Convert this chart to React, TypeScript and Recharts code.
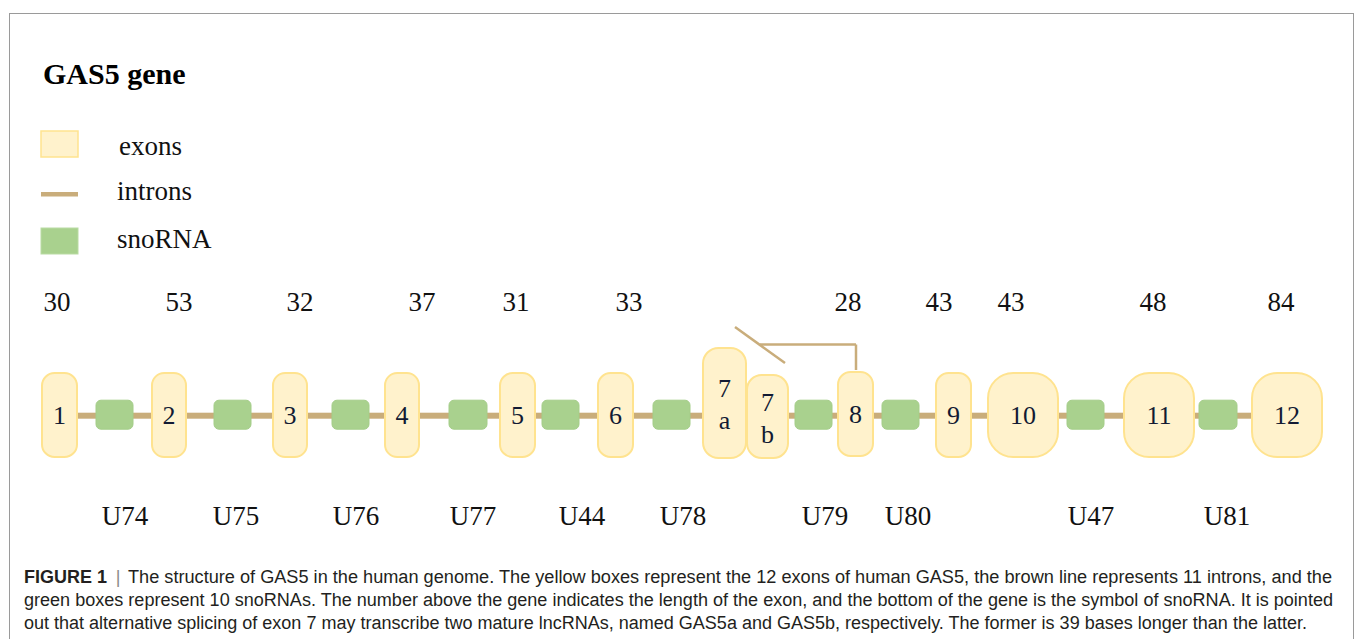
import React from "react";
import {
  ComposedChart,
  XAxis,
  YAxis,
  ReferenceArea,
  ReferenceDot,
  ReferenceLine,
} from "recharts";

// ---------- data (gene-diagram coordinates) ----------
const exonNames = ["1", "2", "3", "4", "5", "6", "7a", "7b", "8", "9", "10", "11", "12"];
const exonStart = [42, 152, 273, 385, 500, 598, 703, 747, 838, 936, 988, 1124, 1252];
const exonEnd = [77, 186, 307, 419, 535, 633, 746, 788, 873, 971, 1058, 1194, 1322];
const exonTop = [373, 373, 373, 373, 373, 373, 348, 375, 372, 373, 373, 373, 373];
const exonBottom = [457, 457, 457, 457, 457, 457, 458, 458, 456, 457, 457, 457, 457];

const exonLengths = [30, 53, 32, 37, 31, 33, 28, 43, 43, 48, 84];
const exonLengthPos = [57, 179, 300, 422, 516, 629, 848, 939, 1011, 1153, 1281];

const snoNames = ["U74", "U75", "U76", "U77", "U44", "U78", "U79", "U80", "U47", "U81"];
const snoStart = [96, 214, 332, 449, 542, 653, 795, 882, 1067, 1199];
const snoEnd = [133, 251, 369, 487, 579, 690, 832, 919, 1104, 1237];
const snoLabelPos = [125, 236, 356, 473, 582, 683, 825, 908, 1091, 1227];

const intronSpan = [60, 1290];
const geneAxis = 415.7;

// splicing bracket for exon 7
const bracketDiag = [
  { x: 735, y: 327 },
  { x: 785, y: 363 },
];
const bracketPath = [
  { x: 760, y: 344.5 },
  { x: 856, y: 344.5 },
  { x: 856, y: 370 },
];

const legendLabels = ["exons", "introns", "snoRNA"];
const titleText = "GAS5 gene";

const captionLabel = "FIGURE 1";
const captionLines = [
  "The structure of GAS5 in the human genome. The yellow boxes represent the 12 exons of human GAS5, the brown line represents 11 introns, and the",
  "green boxes represent 10 snoRNAs. The number above the gene indicates the length of the exon, and the bottom of the gene is the symbol of snoRNA. It is pointed",
  "out that alternative splicing of exon 7 may transcribe two mature lncRNAs, named GAS5a and GAS5b, respectively. The former is 39 bases longer than the latter.",
];

// ---------- styles ----------
const W = 1355;
const H = 639;
const SERIF = '"Liberation Serif", "Times New Roman", serif';
const SANS = '"Liberation Sans", Arial, sans-serif';
const EXON_FILL = "#fff2cc";
const EXON_STROKE = "#ffe38f";
const SNO_FILL = "#a9d18e";
const INTRON = "#c9ad7b";

const textDot = (key: string, x: number, y: number, render: (cx: number, cy: number) => any) => (
  <ReferenceDot
    key={key}
    x={x}
    y={y}
    r={0}
    ifOverflow="visible"
    isFront
    shape={(p: any) => render(p.cx, p.cy)}
  />
);

const captionStart = [128, 24, 24];
const captionEnd = [1332, 1333, 1307];

export default function App() {
  return (
    <div
      style={{
        position: "absolute",
        left: 0,
        top: 0,
        width: W,
        height: H,
        background: "#fff",
        overflow: "hidden",
      }}
    >
      <div
        style={{
          position: "absolute",
          left: 9,
          top: 13,
          width: 1343,
          height: 700,
          border: "1.5px solid #9a9a9a",
          borderBottom: "none",
        }}
      />
      <div style={{ position: "absolute", left: 0, top: 0 }}>
        <ComposedChart width={W} height={H} margin={{ top: 0, right: 0, bottom: 0, left: 0 }}>
          <XAxis type="number" dataKey="x" domain={[0, W]} allowDataOverflow hide />
          <YAxis type="number" dataKey="y" domain={[0, H]} reversed allowDataOverflow hide width={0} />

          {/* intron backbone */}
          <ReferenceArea
            x1={intronSpan[0]}
            x2={intronSpan[1]}
            y1={geneAxis - 3}
            y2={geneAxis + 3}
            ifOverflow="visible"
            shape={(p: any) => <rect x={p.x} y={p.y} width={p.width} height={p.height} fill={INTRON} />}
          />

          {/* snoRNA boxes */}
          {snoNames.map((n, i) => (
            <ReferenceArea
              key={"sno" + n}
              x1={snoStart[i]}
              x2={snoEnd[i]}
              y1={geneAxis - 15.5}
              y2={geneAxis + 13.5}
              ifOverflow="visible"
              shape={(p: any) => (
                <rect x={p.x} y={p.y} width={p.width} height={p.height} rx={5} ry={5} fill={SNO_FILL} stroke="#a4cd88" strokeWidth={1} />
              )}
            />
          ))}

          {/* exon boxes */}
          {exonNames.map((n, i) => (
            <ReferenceArea
              key={"ex" + n}
              x1={exonStart[i]}
              x2={exonEnd[i]}
              y1={exonTop[i]}
              y2={exonBottom[i]}
              ifOverflow="visible"
              shape={(p: any) => {
                const r = Math.min(p.width, p.height) * 0.36;
                const cx = p.x + p.width / 2;
                const cy = p.y + p.height / 2;
                const lines = n.length === 2 && /[ab]/.test(n[1]) ? [n[0], n[1]] : [n];
                return (
                  <g>
                    <rect
                      x={p.x}
                      y={p.y}
                      width={p.width}
                      height={p.height}
                      rx={r}
                      ry={r}
                      fill={EXON_FILL}
                      stroke={EXON_STROKE}
                      strokeWidth={2}
                    />
                    {lines.length === 1 ? (
                      <text x={cx} y={cy + 9} textAnchor="middle" fontFamily={SERIF} fontSize={26} fill="#121a33">
                        {lines[0]}
                      </text>
                    ) : (
                      <text textAnchor="middle" fontFamily={SERIF} fontSize={26} fill="#121a33">
                        <tspan x={cx} y={cy - 6}>{lines[0]}</tspan>
                        <tspan x={cx} y={cy + 26}>{lines[1]}</tspan>
                      </text>
                    )}
                  </g>
                );
              }}
            />
          ))}

          {/* alternative splicing bracket */}
          <ReferenceLine segment={bracketDiag} stroke={INTRON} strokeWidth={2.5} ifOverflow="visible" />
          <ReferenceLine segment={[bracketPath[0], bracketPath[1]]} stroke={INTRON} strokeWidth={2.5} ifOverflow="visible" />
          <ReferenceLine segment={[bracketPath[1], bracketPath[2]]} stroke={INTRON} strokeWidth={2.5} ifOverflow="visible" />

          {/* exon lengths */}
          {exonLengths.map((v, i) =>
            textDot("len" + i, exonLengthPos[i], 311, (cx, cy) => (
              <text x={cx} y={cy} textAnchor="middle" fontFamily={SERIF} fontSize={27} fill="#111">
                {v}
              </text>
            ))
          )}

          {/* snoRNA names */}
          {snoNames.map((n, i) =>
            textDot("snol" + n, snoLabelPos[i], 525, (cx, cy) => (
              <text x={cx} y={cy} textAnchor="middle" fontFamily={SERIF} fontSize={27} fill="#111">
                {n}
              </text>
            ))
          )}

          {/* title */}
          {textDot("title", 43, 84, (cx, cy) => (
            <text x={cx} y={cy} fontFamily={SERIF} fontSize={30} fontWeight="bold" fill="#000">
              {titleText}
            </text>
          ))}

          {/* legend */}
          <ReferenceArea
            x1={41}
            x2={78}
            y1={131}
            y2={157}
            ifOverflow="visible"
            shape={(p: any) => (
              <rect x={p.x} y={p.y} width={p.width} height={p.height} fill={EXON_FILL} stroke={EXON_STROKE} strokeWidth={1.5} />
            )}
          />
          <ReferenceArea
            x1={41}
            x2={78}
            y1={192}
            y2={196.5}
            ifOverflow="visible"
            shape={(p: any) => <rect x={p.x} y={p.y} width={p.width} height={p.height} fill={INTRON} />}
          />
          <ReferenceArea
            x1={41}
            x2={78}
            y1={228}
            y2={254}
            ifOverflow="visible"
            shape={(p: any) => <rect x={p.x} y={p.y} width={p.width} height={p.height} fill={SNO_FILL} stroke="#b9dba3" strokeWidth={1} />}
          />
          {legendLabels.map((l, i) =>
            textDot("leg" + l, [119, 117, 117][i], [155, 200, 247.5][i], (cx, cy) => (
              <text x={cx} y={cy} fontFamily={SERIF} fontSize={27} fill="#111">
                {l}
              </text>
            ))
          )}

          {/* caption */}
          {textDot("capLabel", 24, 583, (cx, cy) => (
            <text x={cx} y={cy} fontFamily={SANS} fontSize={18.5} fontWeight="bold" fill="#231f20" textLength={83} lengthAdjust="spacingAndGlyphs">
              {captionLabel}
            </text>
          ))}
          {textDot("capBar", 118, 583, (cx, cy) => (
            <text x={cx} y={cy} textAnchor="middle" fontFamily={SANS} fontSize={18} fill="#8a8a8a">
              |
            </text>
          ))}
          {captionLines.map((line, i) =>
            textDot("cap" + i, captionStart[i], 583 + i * 23, (cx, cy) => (
              <text
                x={cx}
                y={cy}
                fontFamily={SANS}
                fontSize={18}
                fill="#231f20"
                textLength={captionEnd[i] - captionStart[i]}
                lengthAdjust="spacingAndGlyphs"
              >
                {line}
              </text>
            ))
          )}
        </ComposedChart>
      </div>
    </div>
  );
}
